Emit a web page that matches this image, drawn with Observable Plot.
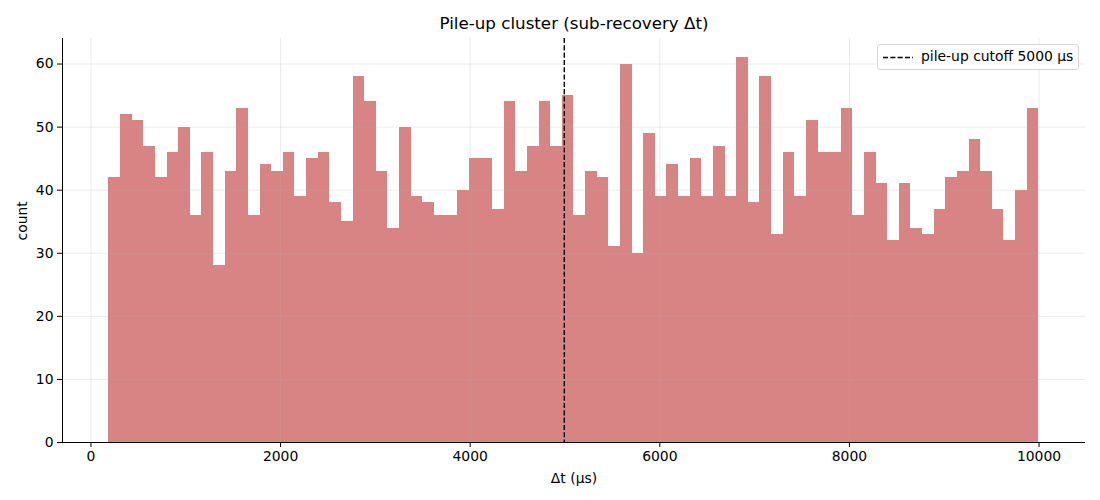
<!DOCTYPE html>
<html>
<head>
<meta charset="utf-8">
<script src="https://cdn.jsdelivr.net/npm/d3@7"></script>
<script src="https://cdn.jsdelivr.net/npm/@observablehq/plot@0.6"></script>
<style>
  html, body { margin: 0; padding: 0; background: #fff; }
  #wrap { position: relative; width: 1100px; height: 500px; font-family: "DejaVu Sans", sans-serif; }
  #legend {
    position: absolute; left: 877px; top: 44px; width: 202px; height: 26px;
    border: 1px solid #d6d6d6; border-radius: 3px; background: rgba(255,255,255,0.8);
    box-sizing: border-box; font-size: 13.9px; color: #000;
  }
  #legend svg { position: absolute; left: 5px; top: 11px; }
  #legend span { position: absolute; left: 43px; top: 3px; white-space: nowrap; }
</style>
</head>
<body>
<div id="wrap">
  <div id="chart"></div>
  <div id="legend"><svg width="30" height="3"><line x1="0" y1="1.5" x2="30" y2="1.5" stroke="#000" stroke-width="1.4" stroke-dasharray="5.1,2.2"/></svg><span>pile-up cutoff 5000 μs</span></div>
</div>
<script>
// Histogram counts (80 bins)
const counts = [
  42, 52, 51, 47, 42, 46, 50, 36, 46, 28,
  43, 53, 36, 44, 43, 46, 39, 45, 46, 38,
  35, 58, 54, 43, 34, 50, 39, 38, 36, 36,
  40, 45, 45, 37, 54, 43, 47, 54, 47, 55,
  36, 43, 42, 31, 60, 30, 49, 39, 44, 39,
  45, 39, 47, 39, 61, 38, 58, 33, 46, 39,
  51, 46, 46, 53, 36, 46, 41, 32, 41, 34,
  33, 37, 42, 43, 48, 43, 37, 32, 40, 53
];
const binStart = 190;
const binWidth = 122.6;
const cutoff = 5000;
const xTicks = [0, 2000, 4000, 6000, 8000, 10000];
const yTicks = [0, 10, 20, 30, 40, 50, 60];
const titleText = "Pile-up cluster (sub-recovery Δt)";
const xLabel = "Δt (μs)";
const yLabel = "count";

const bins = counts.map((c, i) => ({
  x1: binStart + i * binWidth,
  x2: binStart + (i + 1) * binWidth,
  count: c
}));

const xDomain = [-300, 10490];
const yDomain = [0, 64.05];

const chart = Plot.plot({
  width: 1100,
  height: 500,
  marginLeft: 62,
  marginRight: 15,
  marginTop: 38,
  marginBottom: 58,
  style: { fontFamily: "DejaVu Sans, sans-serif", fontSize: "13.9px", color: "#000", background: "#fff" },
  x: { domain: xDomain, ticks: xTicks },
  y: { domain: yDomain, ticks: yTicks },
  marks: [
    Plot.rect(bins, { x1: "x1", x2: "x2", y1: 0, y2: "count", fill: "#d98484", shapeRendering: "crispEdges" }),
    Plot.gridX(xTicks, { stroke: "#b0b0b0", strokeOpacity: 0.3, strokeWidth: 0.8 }),
    Plot.gridY(yTicks, { stroke: "#b0b0b0", strokeOpacity: 0.3, strokeWidth: 0.8 }),
    Plot.ruleX([cutoff], { stroke: "#000", strokeWidth: 1.4, strokeDasharray: "5.1,2.2", dx: -0.7 }),
    Plot.ruleX([xDomain[0]], { stroke: "#000", strokeWidth: 1 }),
    Plot.ruleY([0], { stroke: "#000", strokeWidth: 1 }),
    Plot.axisX(xTicks, { tickSize: 5, tickPadding: 4, label: null, fontSize: 13.9, tickFormat: d => String(d) }),
    Plot.axisY(yTicks, { tickSize: 5, tickPadding: 4, label: null, fontSize: 13.9, tickFormat: d => String(d) }),
    Plot.text([titleText], { frameAnchor: "top", dy: -21, fontSize: 16.7, fill: "#000" }),
    Plot.text([xLabel], { frameAnchor: "bottom", dy: 40, fontSize: 13.9, fill: "#000" }),
    Plot.text([yLabel], { frameAnchor: "left", dx: -40, rotate: -90, fontSize: 13.9, fill: "#000" })
  ]
});
document.getElementById("chart").appendChild(chart);
</script>
</body>
</html>
